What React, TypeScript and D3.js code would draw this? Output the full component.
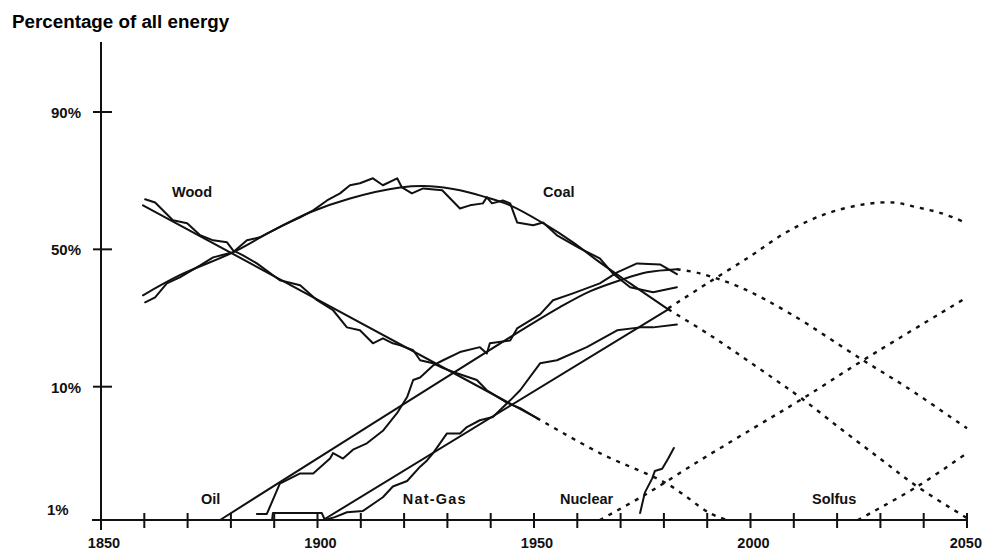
import React, { useRef, useEffect } from "react";
import * as d3 from "d3";

// [year, percent of all energy]
const woodData: [number, number][] = [
  [1860.2, 69.0], [1862.5, 67.9], [1866.6, 61.4], [1869.9, 60.3], [1872.9, 55.6],
  [1875.9, 53.6], [1879.1, 52.8], [1880.5, 49.6], [1882.8, 47.6], [1886.0, 44.4],
  [1891.3, 37.9], [1896.0, 36.0], [1899.9, 30.7], [1903.6, 27.4], [1906.8, 22.3],
  [1909.8, 21.5], [1912.8, 18.2], [1915.1, 19.4], [1917.4, 18.2], [1919.1, 17.7],
  [1922.1, 16.6], [1923.7, 14.5], [1926.7, 13.9], [1929.0, 13.0], [1932.2, 12.1],
  [1936.8, 11.0], [1939.1, 9.5], [1943.8, 7.9], [1946.8, 7.3], [1950.7, 6.3],
];
const woodFit: [number, number][] = [[1859.7, 66.9], [1950.7, 6.3]];
const woodProj: [number, number][] = [
  [1950.7, 6.3], [1965.2, 3.7], [1980.7, 2.3], [1990.6, 1.45], [1994.6, 1.3],
];

const coalData: [number, number][] = [
  [1860.2, 30.0], [1862.5, 31.7], [1865.2, 36.7], [1868.2, 39.0], [1872.9, 43.6],
  [1875.9, 46.8], [1880.5, 48.8], [1883.7, 53.6], [1886.7, 54.8], [1892.0, 59.5],
  [1896.0, 62.5], [1899.0, 65.1], [1902.2, 68.6], [1905.2, 71.0], [1907.5, 73.6],
  [1909.8, 74.2], [1912.8, 75.7], [1915.1, 73.6], [1918.4, 75.7], [1919.5, 72.9],
  [1921.8, 71.0], [1924.4, 72.6], [1928.8, 72.0], [1932.9, 65.8], [1935.2, 66.9],
  [1938.2, 67.6], [1939.1, 69.7], [1940.3, 67.6], [1942.8, 68.6], [1944.5, 67.6],
  [1946.1, 60.6], [1949.8, 59.5], [1952.1, 60.6], [1955.3, 55.6], [1960.6, 50.4],
  [1965.2, 46.4], [1968.2, 40.5], [1972.2, 35.3], [1977.5, 33.5], [1983.0, 35.3],
];
const coalFit: [number, number][] = [
  [1859.7, 32.4], [1868.2, 39.8], [1880.5, 48.8], [1889.0, 56.8], [1898.3, 64.4],
  [1907.5, 69.3], [1919.1, 72.9], [1926.0, 73.3], [1932.9, 72.0], [1938.2, 70.0],
  [1944.5, 66.9], [1952.1, 60.3], [1959.0, 52.8], [1965.2, 44.8], [1972.2, 36.7],
  [1981.0, 27.7],
];
const coalProj: [number, number][] = [
  [1981.0, 27.7], [1990.0, 20.7], [1997.6, 15.5], [2005.2, 11.3], [2011.4, 8.6],
  [2020.7, 5.4], [2029.9, 3.4], [2038.5, 2.2], [2050, 1.34],
];

const oilData: [number, number][] = [
  [1886.0, 1.43], [1888.3, 1.43], [1891.3, 2.3], [1896.0, 2.7], [1899.0, 2.7],
  [1902.9, 3.4], [1903.6, 3.7], [1905.9, 3.4], [1908.2, 3.9], [1911.4, 4.3],
  [1915.1, 5.2], [1918.4, 6.8], [1920.7, 8.6], [1922.1, 11.0], [1923.7, 11.4],
  [1926.7, 13.5], [1929.0, 14.5], [1932.9, 16.2], [1937.5, 17.3], [1939.1, 15.9],
  [1939.8, 18.2], [1944.5, 18.9], [1946.1, 22.0], [1951.4, 26.1], [1954.4, 30.7],
  [1959.0, 33.1], [1965.2, 36.7], [1969.2, 40.9], [1973.8, 44.4], [1979.1, 44.0],
  [1983.0, 40.2],
];
const oilFit: [number, number][] = [
  [1877.5, 1.3], [1944.5, 19.7], [1956.0, 28.4], [1962.9, 33.8], [1969.9, 37.9],
  [1976.1, 40.9], [1983.0, 42.1],
];
const oilProj: [number, number][] = [
  [1983.0, 42.1], [1988.3, 40.5], [1997.6, 35.3], [2009.1, 26.4], [2026.0, 14.5],
  [2036.1, 9.9], [2050, 5.4],
];

const gasData: [number, number][] = [
  [1889.5, 1.3], [1889.7, 1.45], [1901.0, 1.45], [1901.7, 1.3], [1904.0, 1.36],
  [1906.8, 1.47], [1910.5, 1.5], [1915.1, 1.86], [1917.4, 2.2], [1920.7, 2.4],
  [1923.7, 3.0], [1925.3, 3.3], [1926.7, 3.7], [1929.9, 5.0], [1932.9, 5.0],
  [1934.5, 5.5], [1937.5, 6.1], [1940.5, 6.4], [1944.5, 8.2], [1946.8, 9.5],
  [1951.4, 13.9], [1955.3, 14.5], [1962.2, 17.3], [1969.2, 21.5], [1974.5, 22.3],
  [1977.5, 22.3], [1983.0, 23.1],
];
const gasFit: [number, number][] = [[1901.3, 1.3], [1981.0, 27.7]];
const gasProj: [number, number][] = [
  [1981.0, 28.0], [1990.0, 36.7], [1999.9, 47.2], [2007.5, 56.0], [2013.7, 61.4],
  [2019.1, 64.7], [2026.0, 67.2], [2032.9, 67.9], [2038.5, 66.2], [2044.2, 64.0],
  [2050, 60.3],
];

const nuclearData: [number, number][] = [
  [1974.5, 1.45], [1975.6, 2.0], [1977.3, 2.5], [1977.9, 2.8], [1979.6, 2.9],
  [1981.0, 3.4], [1982.3, 4.0],
];
const nuclearProj: [number, number][] = [
  [1965.2, 1.3], [1975.2, 1.9], [1988.3, 3.3], [2000.6, 5.4], [2011.4, 8.2],
  [2026.0, 14.5], [2050, 31.7],
];

const solfusProj: [number, number][] = [[2024.8, 1.3], [2038.5, 2.2], [2050, 3.7]];

const yTicks = [90, 50, 10];
const yTickLabels = ["90%", "50%", "10%"];
const baseLabel = "1%";
const xLabelYears = [1850, 1900, 1950, 2000, 2050];

const sourceNames = ["Wood", "Coal", "Oil", "Nat-Gas", "Nuclear", "Solfus"];
// label anchors [year, percent] for the names above
const labelAt: [number, number][] = [
  [1866.4, 69.7], [1952.1, 69.7], [1873.1, 1.67], [1919.7, 1.67], [1956.0, 1.67], [2014.2, 1.67],
];

const logit = (p: number) => Math.log10(p / (100 - p));

export default function App() {
  const ref = useRef<SVGSVGElement>(null);

  useEffect(() => {
    const width = 984;
    const height = 553;
    const left = 101, right = 967, top = 42, bottom = 520;

    const x = d3.scaleLinear().domain([1850, 2050]).range([left, right]);
    // logistic (f / 1-f) scale
    const yl = d3.scaleLinear().domain([logit(1.3), logit(96.5)]).range([bottom, top]);
    const y = (p: number) => yl(logit(p));

    const svg = d3.select(ref.current).attr("width", width).attr("height", height);
    svg.selectAll("*").remove();
    svg.append("rect").attr("width", width).attr("height", height).attr("fill", "#fff");

    const font = "'Liberation Sans', Arial, Helvetica, sans-serif";

    svg.append("text")
      .attr("x", 12).attr("y", 28)
      .attr("font-family", font).attr("font-weight", "bold").attr("font-size", 18.8)
      .text("Percentage of all energy");

    // axes
    const ax = svg.append("g").attr("stroke", "#111").attr("stroke-width", 2);
    ax.append("line").attr("x1", left).attr("x2", left).attr("y1", top).attr("y2", bottom + 10);
    ax.append("line").attr("x1", left - 9).attr("x2", right).attr("y1", bottom).attr("y2", bottom);
    d3.range(1860, 2051, 10).forEach((yr) => {
      ax.append("line").attr("x1", x(yr)).attr("x2", x(yr)).attr("y1", bottom - 7).attr("y2", bottom + 8);
    });
    yTicks.forEach((t) => {
      ax.append("line").attr("x1", left - 8).attr("x2", left + 11).attr("y1", y(t)).attr("y2", y(t));
    });

    const tg = svg.append("g").attr("font-family", font).attr("font-weight", "bold")
      .attr("font-size", 15).attr("fill", "#111");
    yTicks.forEach((t, i) => {
      tg.append("text").attr("x", 81).attr("y", y(t) + 6).attr("text-anchor", "end").text(yTickLabels[i]);
    });
    tg.append("text").attr("x", 47).attr("y", bottom - 5).text(baseLabel);
    xLabelYears.forEach((yr, i) => {
      const last = i === xLabelYears.length - 1;
      tg.append("text")
        .attr("x", last ? width - 2 : x(yr) + 3)
        .attr("y", 548)
        .attr("font-size", 14.5)
        .attr("text-anchor", last ? "end" : "middle")
        .text(String(yr));
    });

    sourceNames.forEach((n, i) => {
      tg.append("text")
        .attr("x", x(labelAt[i][0])).attr("y", y(labelAt[i][1]))
        .attr("font-size", 14.5)
        .attr("letter-spacing", n === "Nat-Gas" ? 1.2 : 0)
        .text(n);
    });

    const straight = d3.line<[number, number]>().x((d) => x(d[0])).y((d) => y(d[1]));
    const smooth = d3.line<[number, number]>().x((d) => x(d[0])).y((d) => y(d[1]))
      .curve(d3.curveCatmullRom.alpha(0.5));

    const lines = svg.append("g").attr("fill", "none").attr("stroke", "#111")
      .attr("stroke-linejoin", "round").attr("stroke-linecap", "round");

    [woodData, coalData, oilData, gasData, nuclearData].forEach((s) => {
      lines.append("path").attr("d", straight(s)).attr("stroke-width", 2);
    });
    [woodFit, coalFit, oilFit, gasFit].forEach((s) => {
      lines.append("path").attr("d", smooth(s)).attr("stroke-width", 2);
    });
    [woodProj, coalProj, oilProj, gasProj, nuclearProj, solfusProj].forEach((s) => {
      lines.append("path").attr("d", smooth(s)).attr("stroke-width", 2.4)
        .attr("stroke-linecap", "butt").attr("stroke-dasharray", "4 6");
    });
  }, []);

  return (
    <svg ref={ref} style={{ position: "absolute", left: 0, top: 0, display: "block" }} />
  );
}
